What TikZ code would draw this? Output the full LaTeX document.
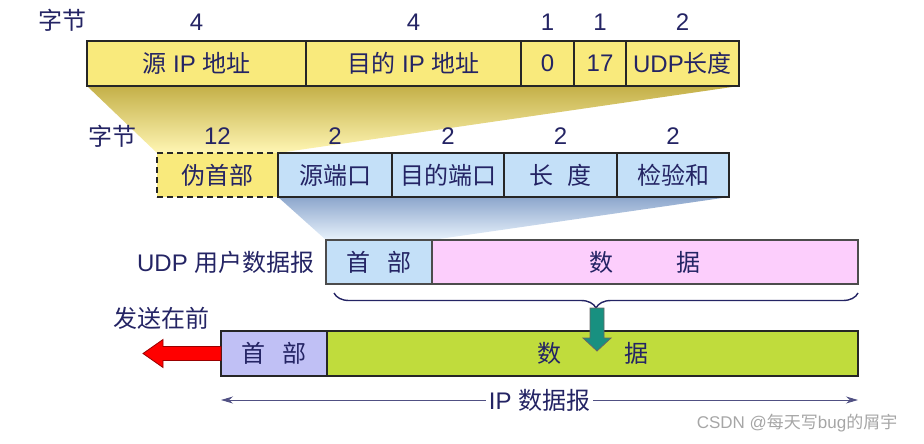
\documentclass[tikz,border=0pt]{standalone}
\usepackage{fontspec}
\setmainfont{Liberation Sans}
\newfontfamily\cjk{Noto Sans CJK SC}
\usetikzlibrary{positioning,backgrounds,decorations.pathreplacing,arrows.meta}
\definecolor{txt}{RGB}{36,36,100}
\definecolor{ipyellow}{RGB}{249,234,124}
\definecolor{udpblue}{RGB}{196,224,248}
\definecolor{datapink}{RGB}{252,206,252}
\definecolor{iphead}{RGB}{192,192,245}
\definecolor{ipgreen}{RGB}{192,220,60}
\definecolor{downteal}{RGB}{24,144,128}
\begin{document}
\begin{tikzpicture}[x=1pt, y=-1pt, text=txt, font=\fontsize{24}{28}\selectfont,
    field/.style={draw=black!85, line width=1.2pt, minimum height=45pt, inner sep=0pt, outer sep=0pt, anchor=north west},
    count/.style={inner sep=1pt}]
    \useasboundingbox (0,0) rectangle (924,444);

    % Pseudo header (IP)
    \node (src) [field, fill=ipyellow, minimum width=219pt] at (87,41) {{\cjk 源} IP {\cjk 地址}};
    \node (dst) [field, fill=ipyellow, minimum width=215pt, right=0pt of src] {{\cjk 目的} IP {\cjk 地址}};
    \node (zero) [field, fill=ipyellow, minimum width=53pt, right=0pt of dst] {0};
    \node (proto) [field, fill=ipyellow, minimum width=52pt, right=0pt of zero] {17};
    \node (ulen) [field, fill=ipyellow, minimum width=113pt, right=0pt of proto] {UDP{\cjk 长度}};
    \node (bytesA) at (62,20) {\cjk 字节};
    \node [count, above=9pt of src] {4};
    \node [count, above=9pt of dst] {4};
    \node [count, above=9pt of zero] {1};
    \node [count, above=9pt of proto] {1};
    \node [count, above=9pt of ulen] {2};

    % UDP header
    \node (pseudo) [field, fill=ipyellow, dash pattern=on 6pt off 4pt, minimum width=121pt, minimum height=44pt] at (157,153) {\cjk 伪首部};
    \node (sport) [field, fill=udpblue, minimum width=114pt, minimum height=44pt, right=0pt of pseudo] {\cjk 源端口};
    \node (dport) [field, fill=udpblue, minimum width=112pt, minimum height=44pt, right=0pt of sport] {\cjk 目的端口};
    \node (length) [field, fill=udpblue, minimum width=113pt, minimum height=44pt, right=0pt of dport] {\cjk 长\hspace{14pt}度};
    \node (csum) [field, fill=udpblue, minimum width=112pt, minimum height=44pt, right=0pt of length] {\cjk 检验和};
    \node (bytesB) at (112,136) {\cjk 字节};
    \node [count, above=7pt of pseudo] {12};
    \node [count, above=7pt of sport] {2};
    \node [count, above=7pt of dport] {2};
    \node [count, above=7pt of length] {2};
    \node [count, above=7pt of csum] {2};

    % UDP datagram
    \node (udph) [field, fill=udpblue, draw=black!70, minimum width=106pt, minimum height=44pt] at (326,240) {\cjk 首\hspace{17pt}部};
    \node (udpd) [field, fill=datapink, draw=black!70, minimum width=426pt, minimum height=44pt, right=0pt of udph] {\cjk 数\hspace{63pt}据};
    \node (udplabel) [left=8pt of udph] {UDP {\cjk 用户数据报}};

    % IP datagram
    \node (iph) [field, fill=iphead, minimum width=106pt, minimum height=45pt] at (221,331) {\cjk 首\hspace{17pt}部};
    \node (ipd) [field, fill=ipgreen, minimum width=531pt, minimum height=45pt, right=0pt of iph] {\cjk 数\hspace{63pt}据};
    \node (first) at (161,318) {\cjk 发送在前};

    % zoom-out shades
    \begin{pgfonlayer}{background}
        \shade[top color={rgb,255:red,196;green,176;blue,72}, bottom color={rgb,255:red,255;green,246;blue,180}]
            (src.south west) -- (ulen.south east) -- (pseudo.north east) -- (pseudo.north west) -- cycle;
        \shade[top color={rgb,255:red,140;green,166;blue,204}, bottom color={rgb,255:red,232;green,242;blue,252}]
            (sport.south west) -- (csum.south east) -- (udph.north east) -- (udph.north west) -- cycle;
    \end{pgfonlayer}

    % brace and arrows
    \draw[txt, line width=1.4pt, decorate, decoration={brace, mirror, amplitude=15pt}] (334,293) -- (858,293);
    \coordinate (tip) at (597,308);
    \filldraw[fill=downteal, draw=black!60, line width=0.8pt] (tip) ++(-7,0) -- ++(0,30) -- ++(-7,0) -- ++(14,13) -- ++(14,-13) -- ++(-7,0) -- ++(0,-30) -- cycle;
    \filldraw[fill=red, draw=red!60!black, line width=0.8pt] (iph.west) ++(0,-7) -- ++(-58,0) -- ++(0,-7) -- ++(-20,14) -- ++(20,14) -- ++(0,-7) -- ++(58,0) -- cycle;

    \coordinate (ipL) at (221,400);
    \coordinate (ipR) at (858,400);
    \draw[{Stealth[length=12pt,width=7pt]}-{Stealth[length=12pt,width=7pt]}, txt!80, line width=0.9pt] (ipL) -- node[fill=white, text=txt, inner sep=3pt] {IP {\cjk 数据报}} (ipR);

    \node (mark) [text=black!35, font=\fontsize{17}{20}\selectfont] at (797,423) {CSDN @{\cjk 每天写}bug{\cjk 的屑宇}};
\end{tikzpicture}
\end{document}
